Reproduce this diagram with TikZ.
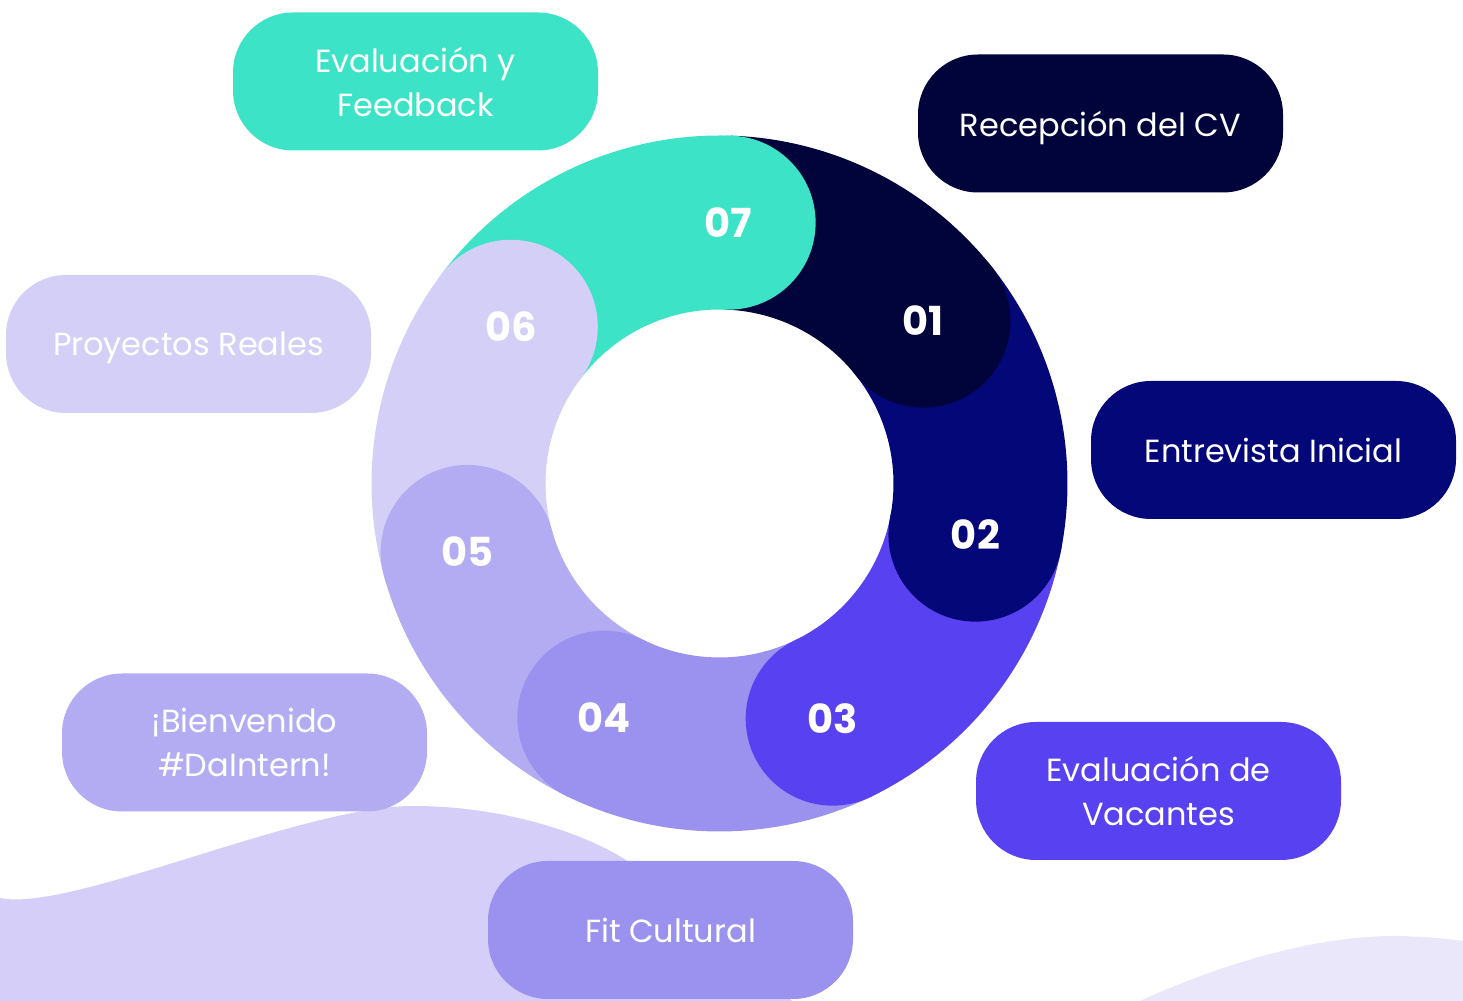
\documentclass[tikz,border=0pt]{standalone}
\usepackage{fontspec}
\setmainfont{Poppins}
\usetikzlibrary{calc}

\definecolor{teal7}{HTML}{3DE3C6}
\definecolor{navy1}{HTML}{00043A}
\definecolor{navy2}{HTML}{030778}
\definecolor{violet3}{HTML}{5841F0}
\definecolor{lilac4}{HTML}{9B92EF}
\definecolor{lilac5}{HTML}{B3ACF3}
\definecolor{lilac6}{HTML}{D4CFF7}
\definecolor{wave}{HTML}{D4CEF8}
\definecolor{wavelight}{HTML}{EBE7FB}

\begin{document}
\begin{tikzpicture}[x=0.5pt,y=0.5pt,
    stepbox/.style={rounded corners=30pt, minimum width=182.5pt, minimum height=69pt,
      inner sep=0pt, text depth=0pt, align=center, text=white, font=\fontsize{16}{22}\selectfont},
    stepnum/.style={text=white, font=\fontsize{20}{20}\selectfont\bfseries}]
  \useasboundingbox (0,0) rectangle (1463,1001);
  \fill[white] (0,0) rectangle (1463,1001);

  \coordinate (C) at (719.5,517.5);

  % waves at the bottom
  \fill[wave] (0,0) -- (0,103) .. controls (70,88) and (300,195) .. (413,195)
    .. controls (500,195) and (580,170) .. (626,141)
    .. controls (680,105) and (760,40) .. (792,0) -- cycle;
  \fill[wavelight] (1140,0) .. controls (1250,50) and (1340,66) .. (1400,65)
    .. controls (1430,64) and (1450,62) .. (1463,60) -- (1463,0) -- cycle;

  % ring
  \foreach \s/\e/\col in {143.1/88/teal7, 88/38.6/navy1, 38.6/-11.3/navy2, -11.3/-64.3/violet3,
                          -64.3/-116.2/lilac4, -116.2/-164.8/lilac5, 195.2/143.1/lilac6}{
    \fill[\col] ($(C)+(\s:348)$) arc[start angle=\s, end angle=\e, radius=348]
      -- ($(C)+(\e:174)$) arc[start angle=\e, end angle=\s, radius=174] -- cycle;
  }
  \foreach \a/\col/\num in {88/teal7/07, 38.6/navy1/01, -11.3/navy2/02, -64.3/violet3/03,
                            -116.2/lilac4/04, -164.8/lilac5/05, 143.1/lilac6/06}{
    \fill[\col] ($(C)+(\a:261)$) circle[radius=87];
    \node[stepnum] (n\num) at ($(C)+(\a:261)$) {\num};
  }

  % labels
  \node[stepbox, fill=teal7]   (feedback)   at (415.5,919.5) {Evaluación y\\Feedback};
  \node[stepbox, fill=navy1]   (cv)         at (1100.5,877.5) {Recepción del CV};
  \node[stepbox, fill=navy2]   (entrevista) at (1273.5,551) {Entrevista Inicial};
  \node[stepbox, fill=violet3] (vacantes)   at (1158.5,210) {Evaluación de\\Vacantes};
  \node[stepbox, fill=lilac4]  (fit)        at (670.5,71) {Fit Cultural};
  \node[stepbox, fill=lilac5]  (bienvenido) at (244.5,258.5) {¡Bienvenido\\\#DaIntern!};
  \node[stepbox, fill=lilac6]  (proyectos)  at (188.5,657) {Proyectos Reales};

\end{tikzpicture}
\end{document}
